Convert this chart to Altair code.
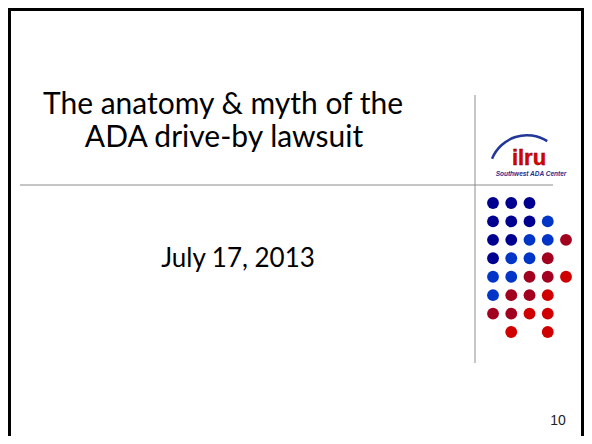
import altair as alt
import pandas as pd

# ---------------- data ----------------
title_lines = ["The anatomy & myth of the", "ADA drive-by lawsuit"]
title_x = [223, 224]
title_y = [114, 147]

date_text = ["July 17, 2013"]
date_x = [238]
date_y = [267]

page_text = ["10"]
page_x = [558]
page_y = [425]

logo_main = ["ilru"]
logo_main_x = [529]
logo_main_y = [165]
logo_sub = ["Southwest ADA Center"]
logo_sub_x = [531]
logo_sub_y = [176]

# dot grid: rows, columns and colour class of each dot
dot_row = [0, 0, 0,
           1, 1, 1, 1,
           2, 2, 2, 2, 2,
           3, 3, 3, 3,
           4, 4, 4, 4, 4,
           5, 5, 5, 5,
           6, 6, 6, 6,
           7, 7]
dot_col = [0, 1, 2,
           0, 1, 2, 3,
           0, 1, 2, 3, 4,
           0, 1, 2, 3,
           0, 1, 2, 3, 4,
           0, 1, 2, 3,
           0, 1, 2, 3,
           1, 3]
dot_kind = ["navy", "navy", "navy",
            "navy", "navy", "navy", "blue",
            "navy", "navy", "blue", "blue", "crimson",
            "navy", "blue", "blue", "crimson",
            "blue", "blue", "crimson", "crimson", "red",
            "blue", "crimson", "crimson", "red",
            "crimson", "crimson", "red", "red",
            "red", "red"]
kind_names = ["navy", "blue", "crimson", "red"]
kind_colors = ["#000090", "#0035C8", "#A2001F", "#D00000"]

# divider lines (reference pixel coordinates)
line_x = [20, 475]
line_x2 = [553, 475]
line_y = [185, 95]
line_y2 = [185, 363]

# ---------------- layout ----------------
W, H = 576, 428
xs = alt.Scale(domain=[8, 584], range=[0, W], nice=False, zero=False)
ys = alt.Scale(domain=[8, 436], range=[0, H], nice=False, zero=False)

def X(f="x"):
    return alt.X(f + ":Q", scale=xs, axis=None)

def Y(f="y"):
    return alt.Y(f + ":Q", scale=ys, axis=None)

# border (drawn on the chart's edges)
border_df = pd.DataFrame({
    "x": [9.5, 8, 582.5], "x2": [9.5, 584, 582.5],
    "y": [8, 9.5, 8], "y2": [436, 9.5, 436],
})
border = alt.Chart(border_df).mark_rule(color="#000000", strokeWidth=3).encode(
    x=X(), x2="x2:Q", y=Y(), y2="y2:Q")

lines_df = pd.DataFrame({"x": line_x, "x2": line_x2, "y": line_y, "y2": line_y2})
lines = alt.Chart(lines_df).mark_rule(color="#8c8c8c", strokeWidth=1).encode(
    x=X(), x2="x2:Q", y=Y(), y2="y2:Q")

title_df = pd.DataFrame({"t": title_lines, "x": title_x, "y": title_y})
title = alt.Chart(title_df).mark_text(
    font="Lato", fontSize=30, color="#000000", align="center", baseline="alphabetic"
).encode(x=X(), y=Y(), text="t:N")

date_df = pd.DataFrame({"t": date_text, "x": date_x, "y": date_y})
date = alt.Chart(date_df).mark_text(
    font="Lato", fontSize=26, color="#000000", align="center", baseline="alphabetic"
).encode(x=X(), y=Y(), text="t:N")

page_df = pd.DataFrame({"t": page_text, "x": page_x, "y": page_y})
page = alt.Chart(page_df).mark_text(
    font="Liberation Sans", fontSize=14, color="#222222", align="center", baseline="alphabetic"
).encode(x=X(), y=Y(), text="t:N")

# logo
arc_df = pd.DataFrame({"x": [527], "y": [173]})
logo_arc = alt.Chart(arc_df).mark_arc(
    radius=39, radius2=36.5, theta=5.1, theta2=6.85, color="#23379a"
).encode(x=X(), y=Y())

lm_df = pd.DataFrame({"t": logo_main, "x": logo_main_x, "y": logo_main_y})
logo_m = alt.Chart(lm_df).mark_text(
    font="Liberation Sans", fontSize=22, fontWeight="bold", color="#E00000",
    align="center", baseline="alphabetic", stroke="#7a0000", strokeWidth=0.4
).encode(x=X(), y=Y(), text="t:N")

ls_df = pd.DataFrame({"t": logo_sub, "x": logo_sub_x, "y": logo_sub_y})
logo_s = alt.Chart(ls_df).mark_text(
    font="Liberation Sans", fontSize=6.5, fontWeight="bold", fontStyle="italic",
    color="#1f2f8f", align="center", baseline="alphabetic"
).encode(x=X(), y=Y(), text="t:N")

# dot grid with its own index scales
dots_df = pd.DataFrame({"r": dot_row, "c": dot_col, "k": dot_kind})
dots = alt.Chart(dots_df).mark_circle(size=140, opacity=1).encode(
    x=alt.X("c:Q", scale=alt.Scale(domain=[0, 4], range=[493 - 8, 566 - 8], nice=False, zero=False), axis=None),
    y=alt.Y("r:Q", scale=alt.Scale(domain=[0, 7], range=[203 - 8, 332 - 8], nice=False, zero=False), axis=None),
    color=alt.Color("k:N", scale=alt.Scale(domain=kind_names, range=kind_colors), legend=None),
)

chart = alt.layer(
    border, lines, title, date, page, logo_arc, logo_m, logo_s, dots
).resolve_scale(x="independent", y="independent").properties(
    width=W, height=H, padding=0,
    autosize=alt.AutoSizeParams(type="none"),
    background="#ffffff",
).configure_view(stroke=None)

chart.save("out.html", embed_options={"renderer": "svg", "actions": False})
